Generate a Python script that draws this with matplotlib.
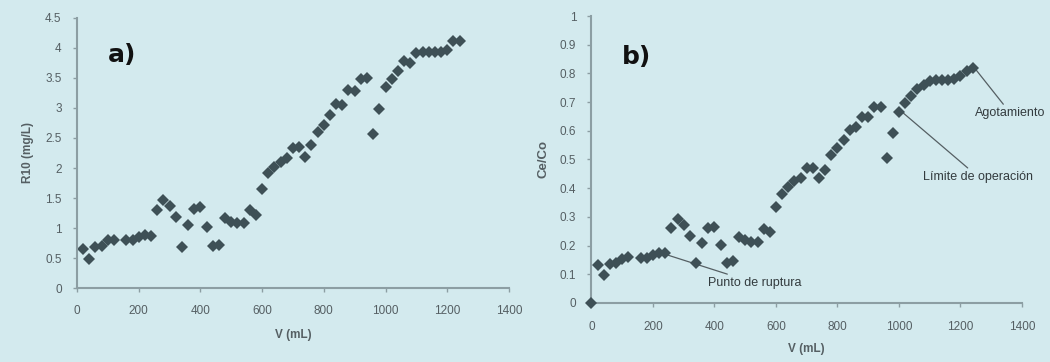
import matplotlib.pyplot as plt

# volumen (mL)
v_a = [20, 40, 60, 80, 100, 120, 160, 180, 200, 220, 240, 260, 280, 300, 320,
       340, 360, 380, 400, 420, 440, 460, 480, 500, 520, 540, 560, 580, 600,
       620, 640, 660, 680, 700, 720, 740, 760, 780, 800, 820, 840, 860, 880,
       900, 920, 940, 960, 980, 1000, 1020, 1040, 1060, 1080, 1100, 1120,
       1140, 1160, 1180, 1200, 1220, 1240]
r10 = [0.65, 0.48, 0.68, 0.70, 0.80, 0.80, 0.80, 0.80, 0.85, 0.88, 0.86, 1.30,
       1.46, 1.37, 1.18, 0.68, 1.05, 1.32, 1.35, 1.02, 0.70, 0.71, 1.17, 1.10,
       1.08, 1.08, 1.30, 1.22, 1.65, 1.92, 2.02, 2.10, 2.17, 2.34, 2.35, 2.18,
       2.38, 2.60, 2.72, 2.88, 3.07, 3.05, 3.30, 3.28, 3.48, 3.50, 2.57, 2.98,
       3.35, 3.48, 3.62, 3.78, 3.75, 3.92, 3.93, 3.93, 3.93, 3.93, 3.97, 4.12,
       4.12]

v_b = [0] + v_a
ce_co = [0.0, 0.132, 0.098, 0.135, 0.14, 0.152, 0.16, 0.158, 0.158, 0.167,
         0.173, 0.173, 0.26, 0.292, 0.272, 0.233, 0.138, 0.21, 0.262, 0.266,
         0.202, 0.138, 0.147, 0.231, 0.22, 0.214, 0.214, 0.257, 0.246, 0.333,
         0.38, 0.405, 0.425, 0.434, 0.469, 0.47, 0.436, 0.463, 0.516, 0.54,
         0.567, 0.603, 0.614, 0.649, 0.649, 0.684, 0.684, 0.504, 0.593, 0.667,
         0.696, 0.72, 0.745, 0.76, 0.775, 0.777, 0.777, 0.777, 0.78, 0.792,
         0.81, 0.82]

xticks = [0, 200, 400, 600, 800, 1000, 1200, 1400]

bg = '#d3eaee'
mk = '#3e5056'
ax_col = '#8c9ea3'
txt_col = '#555f63'
fam = ['Liberation Sans Narrow', 'Liberation Sans', 'DejaVu Sans']

fig = plt.figure(figsize=(10.5, 3.62), dpi=100, facecolor=bg)
ax1 = fig.add_axes([0.0733, 0.2044, 0.4114, 0.7459])
ax2 = fig.add_axes([0.5633, 0.163, 0.41, 0.7928])


def style(ax, pad):
    ax.set_facecolor(bg)
    for s in ['top', 'right']:
        ax.spines[s].set_visible(False)
    for s in ['left', 'bottom']:
        ax.spines[s].set_color(ax_col)
        ax.spines[s].set_linewidth(1.5)
    ax.tick_params(direction='out', length=3, width=1, color=ax_col,
                   labelsize=8.5, labelcolor=txt_col, pad=8)
    ax.tick_params(axis='x', pad=pad)
    for lab in ax.get_xticklabels() + ax.get_yticklabels():
        lab.set_family(fam)
    ax.set_xlim(0, 1400)
    ax.set_xticks(xticks)


ax1.plot(v_a, r10, 'D', color=mk, markersize=6, markeredgewidth=0)
ax1.set_ylim(0, 4.5)
ax1.set_yticks([0, 0.5, 1, 1.5, 2, 2.5, 3, 3.5, 4, 4.5])
ax1.set_yticklabels(['0', '0.5', '1', '1.5', '2', '2.5', '3', '3.5', '4', '4.5'])
style(ax1, 9)
ax1.set_xlabel('V (mL)', fontsize=8.5, fontweight='bold', color=txt_col,
               family=fam, labelpad=9)
ax1.set_ylabel('R10 (mg/L)', fontsize=8.5, fontweight='bold', color=txt_col,
               family=fam, labelpad=8)
ax1.text(146, 3.88, 'a)', fontsize=18, fontweight='bold', ha='center',
         va='center', color='#111111')

ax2.plot(v_b, ce_co, 'D', color=mk, markersize=6, markeredgewidth=0,
         clip_on=False, zorder=5)
ax2.set_ylim(0, 1)
ax2.set_yticks([0, 0.1, 0.2, 0.3, 0.4, 0.5, 0.6, 0.7, 0.8, 0.9, 1])
ax2.set_yticklabels(['0', '0.1', '0.2', '0.3', '0.4', '0.5', '0.6', '0.7',
                     '0.8', '0.9', '1'])
style(ax2, 10)
ax2.set_xlabel('V (mL)', fontsize=8.5, fontweight='bold', color=txt_col,
               family=fam, labelpad=7)
ax2.set_ylabel('Ce/Co', fontsize=9.5, fontweight='bold', color=txt_col,
               family=fam, labelpad=7)
ax2.text(145, 0.857, 'b)', fontsize=18, fontweight='bold', ha='center',
         va='center', color='#111111')

arrow = dict(arrowstyle='-', color='#555f63', lw=0.9, shrinkA=0, shrinkB=0)
ax2.annotate('Punto de ruptura', xy=(245, 0.168), xytext=(379, 0.07),
             fontsize=9, color='#333b3e', family=fam, ha='left',
             va='center', arrowprops=arrow)
ax2.annotate('Límite de operación', xy=(1003, 0.672), xytext=(1257, 0.44),
             fontsize=9, color='#333b3e', family=fam, ha='center',
             va='center', arrowprops=arrow)
ax2.annotate('Agotamiento', xy=(1245, 0.82), xytext=(1362, 0.662),
             fontsize=9, color='#333b3e', family=fam, ha='center',
             va='center', arrowprops=arrow, annotation_clip=False)

fig.savefig('out.png', dpi=100, facecolor=bg)
